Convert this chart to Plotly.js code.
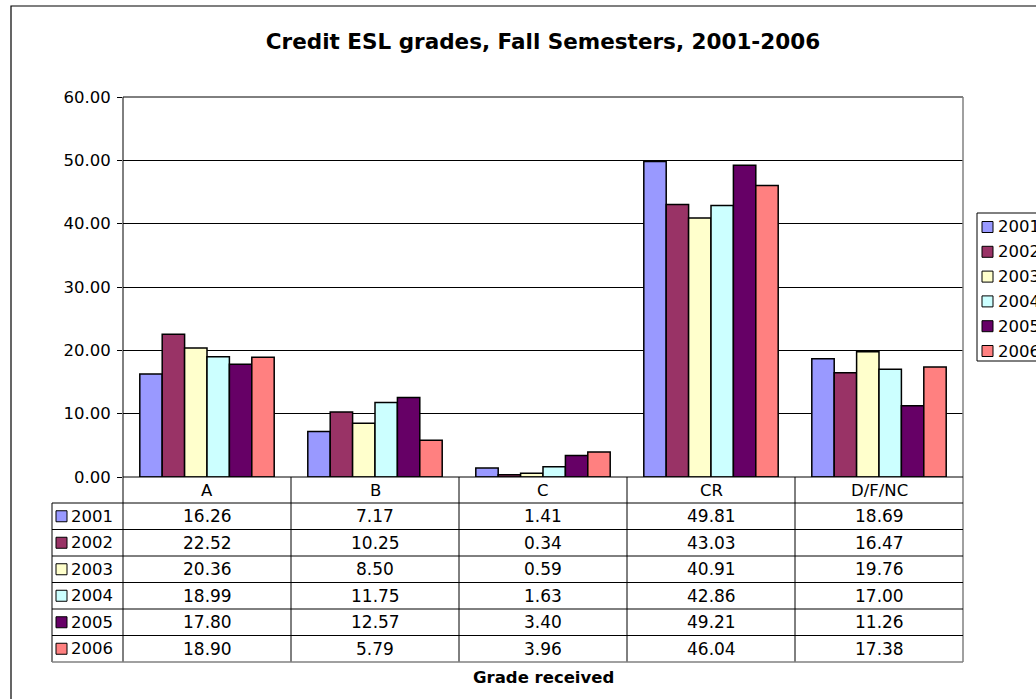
<!DOCTYPE html>
<html>
<head>
<meta charset="utf-8">
<script src="https://cdn.plot.ly/plotly-3.0.1.min.js"></script>
<style>html,body{margin:0;padding:0;background:#fff;overflow:hidden}#chart{width:1036px;height:699px}</style>
</head>
<body>
<div id="chart"></div>
<script>
const categories = ['A', 'B', 'C', 'CR', 'D/F/NC'];
const years = ['2001', '2002', '2003', '2004', '2005', '2006'];
const v2001 = [16.26, 7.17, 1.41, 49.81, 18.69];
const v2002 = [22.52, 10.25, 0.34, 43.03, 16.47];
const v2003 = [20.36, 8.50, 0.59, 40.91, 19.76];
const v2004 = [18.99, 11.75, 1.63, 42.86, 17.00];
const v2005 = [17.80, 12.57, 3.40, 49.21, 11.26];
const v2006 = [18.90, 5.79, 3.96, 46.04, 17.38];
const seriesValues = [v2001, v2002, v2003, v2004, v2005, v2006];
const colors = ['#9999FF', '#993366', '#FFFFCC', '#CCFFFF', '#660066', '#FF8080'];
const yTicks = [0, 10, 20, 30, 40, 50, 60];
const titleText = 'Credit ESL grades, Fall Semesters, 2001-2006';
const xTitleText = 'Grade received';

const W = 1036, H = 699, L = 123, R = 963, T = 97, B = 477;
const FONT = 'DejaVu Sans, Verdana, sans-serif';
const px = p => (p - L) / (R - L);
const py = p => (B - p) / (B - T);

const traces = years.map((yr, i) => ({
  type: 'bar', name: yr, x: categories, y: seriesValues[i],
  marker: {color: colors[i], line: {color: '#000', width: 1.5}},
  hoverinfo: 'x+y+name'
}));

const shapes = [];
const annotations = [];
const line = (x0, y0, x1, y1, color, w) => shapes.push({
  type: 'line', xref: 'paper', yref: 'paper', x0: px(x0), y0: py(y0), x1: px(x1), y1: py(y1),
  line: {color: color || '#000', width: w || 1}
});

// outer chart border
shapes.push({type: 'rect', xref: 'paper', yref: 'paper', x0: px(11), y0: py(6), x1: px(1045), y1: py(710),
  line: {color: '#000', width: 1.2}, fillcolor: 'rgba(0,0,0,0)'});
// plot top gridline and right border (gray)
line(L, T, R, T, '#000', 1);
line(R, T, R, B, '#808080', 1.5);

// data table geometry
const colW = (R - L) / categories.length;
const headerBottom = 503;
const rowH = 26.5;
const tableLeft = 52;
const tableBottom = headerBottom + rowH * years.length;
for (let c = 0; c <= categories.length; c++) {
  const x = L + c * colW;
  const last = c === categories.length;
  line(x, B, x, tableBottom, last ? '#808080' : '#000', last ? 1.5 : 1);
}
line(tableLeft, headerBottom, tableLeft, tableBottom, '#000', 1);
line(L, T, L, B, '#000', 1);
line(L, B, R, B, '#000', 1);
for (let r = 0; r <= years.length; r++) {
  const y = headerBottom + r * rowH;
  const last = r === years.length;
  line(tableLeft, y, R, y, last ? '#808080' : '#000', last ? 1.5 : 1);
}
categories.forEach((c) => annotations.push({
  xref: 'x', yref: 'paper', x: c, y: py((B + headerBottom) / 2), text: c, showarrow: false,
  xanchor: 'center', yanchor: 'middle', font: {family: FONT, size: 16.5, color: '#000'}
}));
years.forEach((yr, r) => {
  const cy = headerBottom + r * rowH + rowH / 2;
  shapes.push({type: 'rect', xref: 'paper', yref: 'paper', x0: px(56), x1: px(67), y0: py(cy - 5.5), y1: py(cy + 5.5),
    fillcolor: colors[r], line: {color: '#000', width: 1}});
  annotations.push({xref: 'paper', yref: 'paper', x: px(69), y: py(cy), text: yr, showarrow: false,
    xanchor: 'left', yanchor: 'middle', font: {family: FONT, size: 16.5, color: '#000'}});
  categories.forEach((c, ci) => annotations.push({
    xref: 'x', yref: 'paper', x: c, y: py(cy), text: seriesValues[r][ci].toFixed(2), showarrow: false,
    xanchor: 'center', yanchor: 'middle', font: {family: FONT, size: 17, color: '#000'}
  }));
});
annotations.push({xref: 'paper', yref: 'paper', x: 0.5, y: py(677), text: '<b>' + xTitleText + '</b>', showarrow: false,
  xanchor: 'center', yanchor: 'middle', font: {family: FONT, size: 16.5, color: '#000'}});

// manual legend (clipped at the right edge, as in the reference)
const legL = 977, legT = 213, legB = 361;
shapes.push({type: 'rect', xref: 'paper', yref: 'paper', x0: px(legL), x1: px(1060), y0: py(legT), y1: py(legB),
  line: {color: '#000', width: 1}, fillcolor: '#fff'});
years.forEach((yr, i) => {
  const cy = 227 + i * 24.8;
  shapes.push({type: 'rect', xref: 'paper', yref: 'paper', x0: px(982), x1: px(993), y0: py(cy - 5.5), y1: py(cy + 5.5),
    fillcolor: colors[i], line: {color: '#000', width: 1}});
  annotations.push({xref: 'paper', yref: 'paper', x: px(996), y: py(cy), text: yr, showarrow: false,
    xanchor: 'left', yanchor: 'middle', font: {family: FONT, size: 16.5, color: '#000'}});
});

const layout = {
  width: W, height: H,
  margin: {l: L, r: W - R, t: T, b: H - B, pad: 0},
  paper_bgcolor: '#fff', plot_bgcolor: '#fff',
  showlegend: false,
  title: {text: '<b>' + titleText + '</b>', x: 0.5, xref: 'paper', xanchor: 'center', y: 1 - 41 / H, yanchor: 'middle',
    font: {family: FONT, size: 21.5, color: '#000'}},
  bargap: 0.2, bargroupgap: 0, barmode: 'group',
  xaxis: {type: 'category', range: [-0.5, categories.length - 0.5], showticklabels: false, ticks: '',
    showgrid: false, zeroline: false, showline: false, fixedrange: true},
  yaxis: {range: [0, 60], tickvals: yTicks, ticktext: yTicks.map(v => v.toFixed(2)), ticks: 'outside', ticklen: 5,
    tickcolor: '#000', showgrid: true, gridcolor: '#000', gridwidth: 1, zeroline: false, showline: false,
    ticklabelstandoff: 3,
    tickfont: {family: FONT, size: 16.5, color: '#000'}, fixedrange: true},
  shapes: shapes, annotations: annotations
};

Plotly.newPlot('chart', traces, layout, {displayModeBar: false, staticPlot: true});
</script>
</body>
</html>
